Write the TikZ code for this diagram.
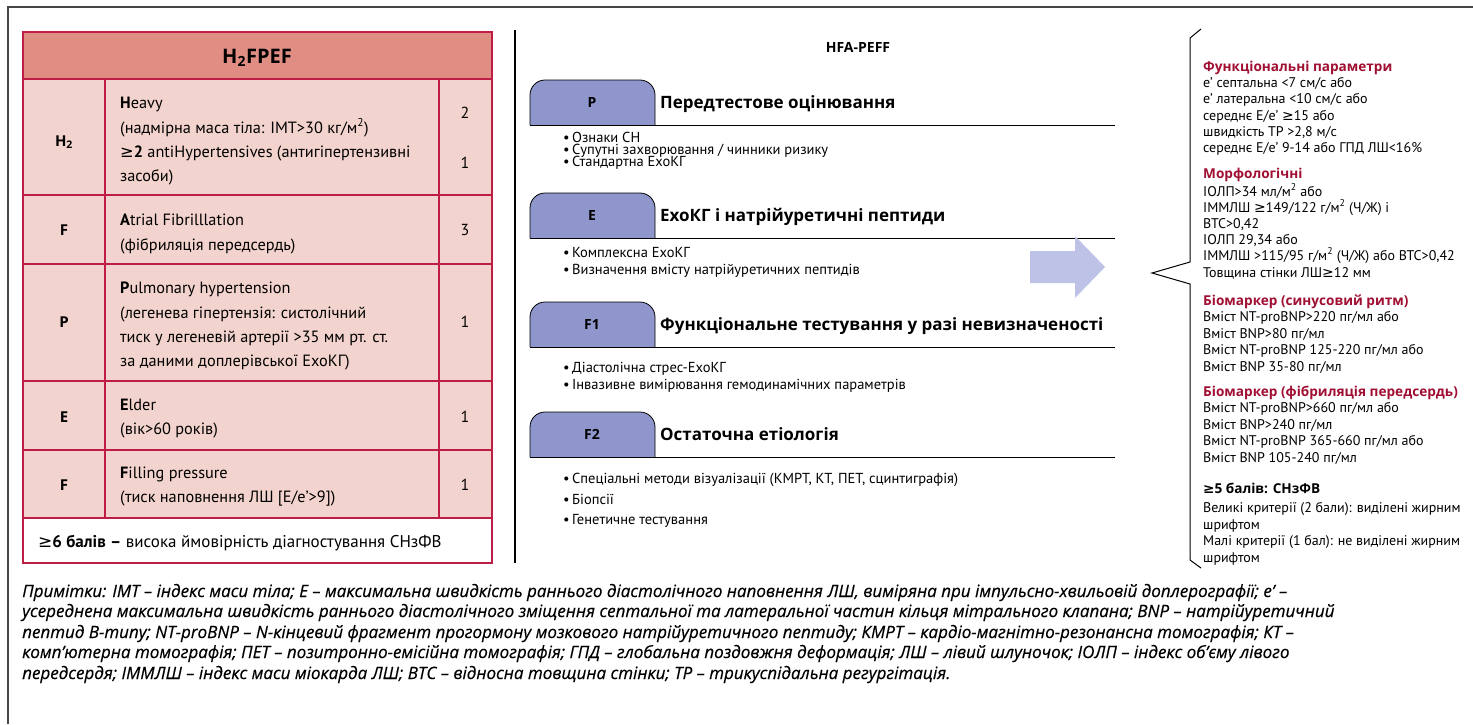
\documentclass[tikz,border=0pt]{standalone}
\usepackage{fontspec}
\setmainfont{PT Sans}
\newfontfamily\notefont{Open Sans}[ItalicFeatures={FakeBold=0.4}]
\newfontfamily\headfont{Open Sans}
\newfontfamily\dejavu{DejaVu Sans}
\newcommand\fsz[1]{\fontsize{#1}{#1}\selectfont}
\newcommand\gesym{{\dejavu ≥}}

\definecolor{hdrfill}{RGB}{224,142,132}
\definecolor{rowfill}{RGB}{243,211,205}
\definecolor{tabline}{RGB}{190,30,70}
\definecolor{tabfill}{RGB}{142,150,204}
\definecolor{arrowfill}{RGB}{190,194,230}
\definecolor{headred}{RGB}{160,15,50}
\definecolor{framegray}{RGB}{70,70,70}

\tikzset{
  tb/.style={inner sep=0pt, anchor=base west, font=\fsz{16.3}},
  tbc/.style={inner sep=0pt, anchor=base, font=\fsz{16}},
  lab/.style={inner sep=0pt, anchor=base, font=\headfont\fsz{15}\bfseries},
  hd/.style={inner sep=0pt, anchor=base west, font=\headfont\fsz{17}\bfseries},
  tablbl/.style={inner sep=0pt, anchor=base, font=\headfont\fsz{14}\bfseries},
  bul/.style={inner sep=0pt, anchor=base west, font=\fsz{14.5}},
  rhead/.style={inner sep=0pt, anchor=base west, font=\headfont\fsz{13.6}\bfseries, text=headred},
  rtxt/.style={inner sep=0pt, anchor=base west, font=\fsz{14}},
  note/.style={inner sep=0pt, anchor=base west, font=\notefont\itshape\fsz{17}},
  grid/.style={tabline, line width=1.5},
  tabshape/.style={fill=tabfill, draw=black, line width=0.8, rounded corners=15},
}

\begin{document}
\begin{tikzpicture}[x=1pt,y=-1pt]
\useasboundingbox (0,0) rectangle (1473,724);
\fill[white] (0,0) rectangle (1473,724);
\draw[framegray, line width=2] (8,724) -- (8,7) -- (1473,7);

% ---------- H2FPEF score table ----------
\fill[hdrfill] (23,32) rectangle (492,79);
\fill[rowfill] (23,79) rectangle (492,518);
\foreach \yy in {79,195,264,381,450,518} \draw[grid] (23,\yy) -- (492,\yy);
\foreach \xx in {105,439} \draw[grid] (\xx,79) -- (\xx,518);
\draw[grid] (23,32) rectangle (492,563);

\node[inner sep=0pt, anchor=base, font=\headfont\fsz{20}\bfseries] (ttl) at (257,63) {H\textsubscript{2}FPEF};

\node[lab] (lH) at (64,146) {H\textsubscript{2}};
\node[lab] (lF) at (64,235) {F};
\node[lab] (lP) at (64,327) {P};
\node[lab] (lE) at (64,422) {E};
\node[lab] (lF2) at (64,490) {F};

\node[tbc] (n1) at (465,118) {2};
\node[tbc] (n2) at (465,168) {1};
\node[tbc] (n3) at (465,235) {3};
\node[tbc] (n4) at (465,327) {1};
\node[tbc] (n5) at (465,422) {1};
\node[tbc] (n6) at (465,490) {1};

\node[tb] (h1) at (120,108) {\textbf{H}eavy};
\node[tb] (h2) at (120,133) {(надмірна маса тіла: ІМТ>30 кг/м\textsuperscript{2})};
\node[tb] (h3) at (120,157) {\gesym\textbf{2} antiHypertensives (антигіпертензивні};
\node[tb] (h4) at (120,181) {засоби)};
\node[tb] (a1) at (120,225) {\textbf{A}trial Fibrilllation};
\node[tb] (a2) at (120,250) {(фібриляція передсердь)};
\node[tb] (p1) at (120,293) {\textbf{P}ulmonary hypertension};
\node[tb] (p2) at (120,318) {(легенева гіпертензія: систолічний};
\node[tb] (p3) at (120,342) {тиск у легеневій артерії >35 мм рт. ст.};
\node[tb] (p4) at (120,366) {за даними доплерівської ЕхоКГ)};
\node[tb] (e1) at (120,410) {\textbf{E}lder};
\node[tb] (e2) at (120,434) {(вік>60 років)};
\node[tb] (f1) at (120,478) {\textbf{F}illing pressure};
\node[tb] (f2) at (120,502) {(тиск наповнення ЛШ [Е/е’>9])};

\node[tb, font=\fsz{17}] (foot) at (38,547) {\gesym\textbf{6 балів –} висока ймовірність діагностування СНзФВ};

% ---------- HFA-PEFF steps ----------
\draw[line width=1.5] (515,30) -- (515,563);
\node[inner sep=0pt, anchor=base, font=\headfont\fsz{14}\bfseries] (hfa) at (858,52) {HFA-PEFF};

\foreach \nm/\lbl/\ty/\txt in {
    P/P/80/{Передтестове оцінювання},
    E/E/193/{ЕхоКГ і натрійуретичні пептиди},
    Fa/F1/302/{Функціональне тестування у разі невизначеності},
    Fb/F2/412/{Остаточна етіологія}} {
  \filldraw[tabshape] (530,\ty+45) -- (530,\ty) -- (655,\ty) -- (655,\ty+45);
  \draw[line width=1] (530,\ty+45) -- (1115,\ty+45);
  \node[tablbl] (tab\nm) at (592,\ty+27.5) {\lbl};
  \node[hd] (head\nm) at (660,\ty+28) {\txt};
}

\node[bul] (bP1) at (563,142) {•\,Ознаки СН};
\node[bul] (bP2) at (563,154) {•\,Супутні захворювання / чинники ризику};
\node[bul] (bP3) at (563,166) {•\,Стандартна ЕхоКГ};
\node[bul] (bE1) at (563,257) {•\,Комплексна ЕхоКГ};
\node[bul] (bE2) at (563,274) {•\,Визначення вмісту натрійуретичних пептидів};
\node[bul] (bF1) at (563,372) {•\,Діастолічна стрес-ЕхоКГ};
\node[bul] (bF2) at (563,389) {•\,Інвазивне вимірювання гемодинамічних параметрів};
\node[bul] (bG1) at (563,483) {•\,Спеціальні методи візуалізації (КМРТ, КТ, ПЕТ, сцинтиграфія)};
\node[bul] (bG2) at (563,504) {•\,Біопсії};
\node[bul] (bG3) at (563,524) {•\,Генетичне тестування};

% block arrow and brace
\fill[arrowfill] (1030,251) -- (1075,251) -- (1075,236) -- (1105,267)
  -- (1075,298) -- (1075,283) -- (1030,283) -- cycle;
\draw[line width=1] (1201,29) -- (1190,38) -- (1190,262) -- (1152,273)
  -- (1190,284) -- (1190,560) -- (1201,568);

% ---------- criteria ----------
\node[rhead] (c1) at (1203,71) {Функціональні параметри};
\node[rtxt] (c1a) at (1203,87) {е’ септальна <7 см/с або};
\node[rtxt] (c1b) at (1203,103.5) {е’ латеральна <10 см/с або};
\node[rtxt] (c1c) at (1203,120) {середнє Е/е’ \gesym15 або};
\node[rtxt] (c1d) at (1203,136) {швидкість ТР >2,8 м/с};
\node[rtxt] (c1e) at (1203,152) {середнє Е/е’ 9-14 або ГПД ЛШ<16\%};

\node[rhead] (c2) at (1203,178.5) {Морфологічні};
\node[rtxt] (c2a) at (1203,196) {ІОЛП>34 мл/м\textsuperscript{2} або};
\node[rtxt] (c2b) at (1203,212) {ІММЛШ \gesym149/122 г/м\textsuperscript{2} (Ч/Ж) і};
\node[rtxt] (c2c) at (1203,228) {ВТС>0,42};
\node[rtxt] (c2d) at (1203,244) {ІОЛП 29,34 або};
\node[rtxt] (c2e) at (1203,260) {ІММЛШ >115/95 г/м\textsuperscript{2} (Ч/Ж) або ВТС>0,42};
\node[rtxt] (c2f) at (1203,277) {Товщина стінки ЛШ\gesym12 мм};

\node[rhead] (c3) at (1203,305) {Біомаркер (синусовий ритм)};
\node[rtxt] (c3a) at (1203,321.5) {Вміст NT-proBNP>220 пг/мл або};
\node[rtxt] (c3b) at (1203,338) {Вміст BNP>80 пг/мл};
\node[rtxt] (c3c) at (1203,354.5) {Вміст NT-proBNP 125-220 пг/мл або};
\node[rtxt] (c3d) at (1203,371) {Вміст BNP 35-80 пг/мл};

\node[rhead] (c4) at (1203,396) {Біомаркер (фібриляція передсердь)};
\node[rtxt] (c4a) at (1203,412.5) {Вміст NT-proBNP>660 пг/мл або};
\node[rtxt] (c4b) at (1203,429) {Вміст BNP>240 пг/мл};
\node[rtxt] (c4c) at (1203,445.5) {Вміст NT-proBNP 365-660 пг/мл або};
\node[rtxt] (c4d) at (1203,462) {Вміст BNP 105-240 пг/мл};

\node[rhead, text=black] (c5) at (1203,493.5) {\gesym5 балів: СНзФВ};
\node[rtxt] (c5a) at (1203,512.5) {Великі критерії (2 бали): виділені жирним};
\node[rtxt] (c5b) at (1203,529) {шрифтом};
\node[rtxt] (c5c) at (1203,545.5) {Малі критерії (1 бал): не виділені жирним};
\node[rtxt] (c5d) at (1203,562) {шрифтом};

% ---------- notes ----------
\node[note] (nt1) at (22,597) {Примітки: ІМТ – індекс маси тіла; Е – максимальна швидкість раннього діастолічного наповнення ЛШ, виміряна при імпульсно-хвильовій доплерографії; е’ –};
\node[note] (nt2) at (22,617) {усереднена максимальна швидкість раннього діастолічного зміщення септальної та латеральної частин кільця мітрального клапана; BNP – натрійуретичний};
\node[note] (nt3) at (22,638) {пептид В-типу; NT-proBNP – N-кінцевий фрагмент прогормону мозкового натрійуретичного пептиду; КМРТ – кардіо-магнітно-резонансна томографія; КТ –};
\node[note] (nt4) at (22,658) {комп’ютерна томографія; ПЕТ – позитронно-емісійна томографія; ГПД – глобальна поздовжня деформація; ЛШ – лівий шлуночок; ІОЛП – індекс об’єму лівого};
\node[note] (nt5) at (22,679) {передсердя; ІММЛШ – індекс маси міокарда ЛШ; ВТС – відносна товщина стінки; ТР – трикуспідальна регургітація.};
\end{tikzpicture}
\end{document}
